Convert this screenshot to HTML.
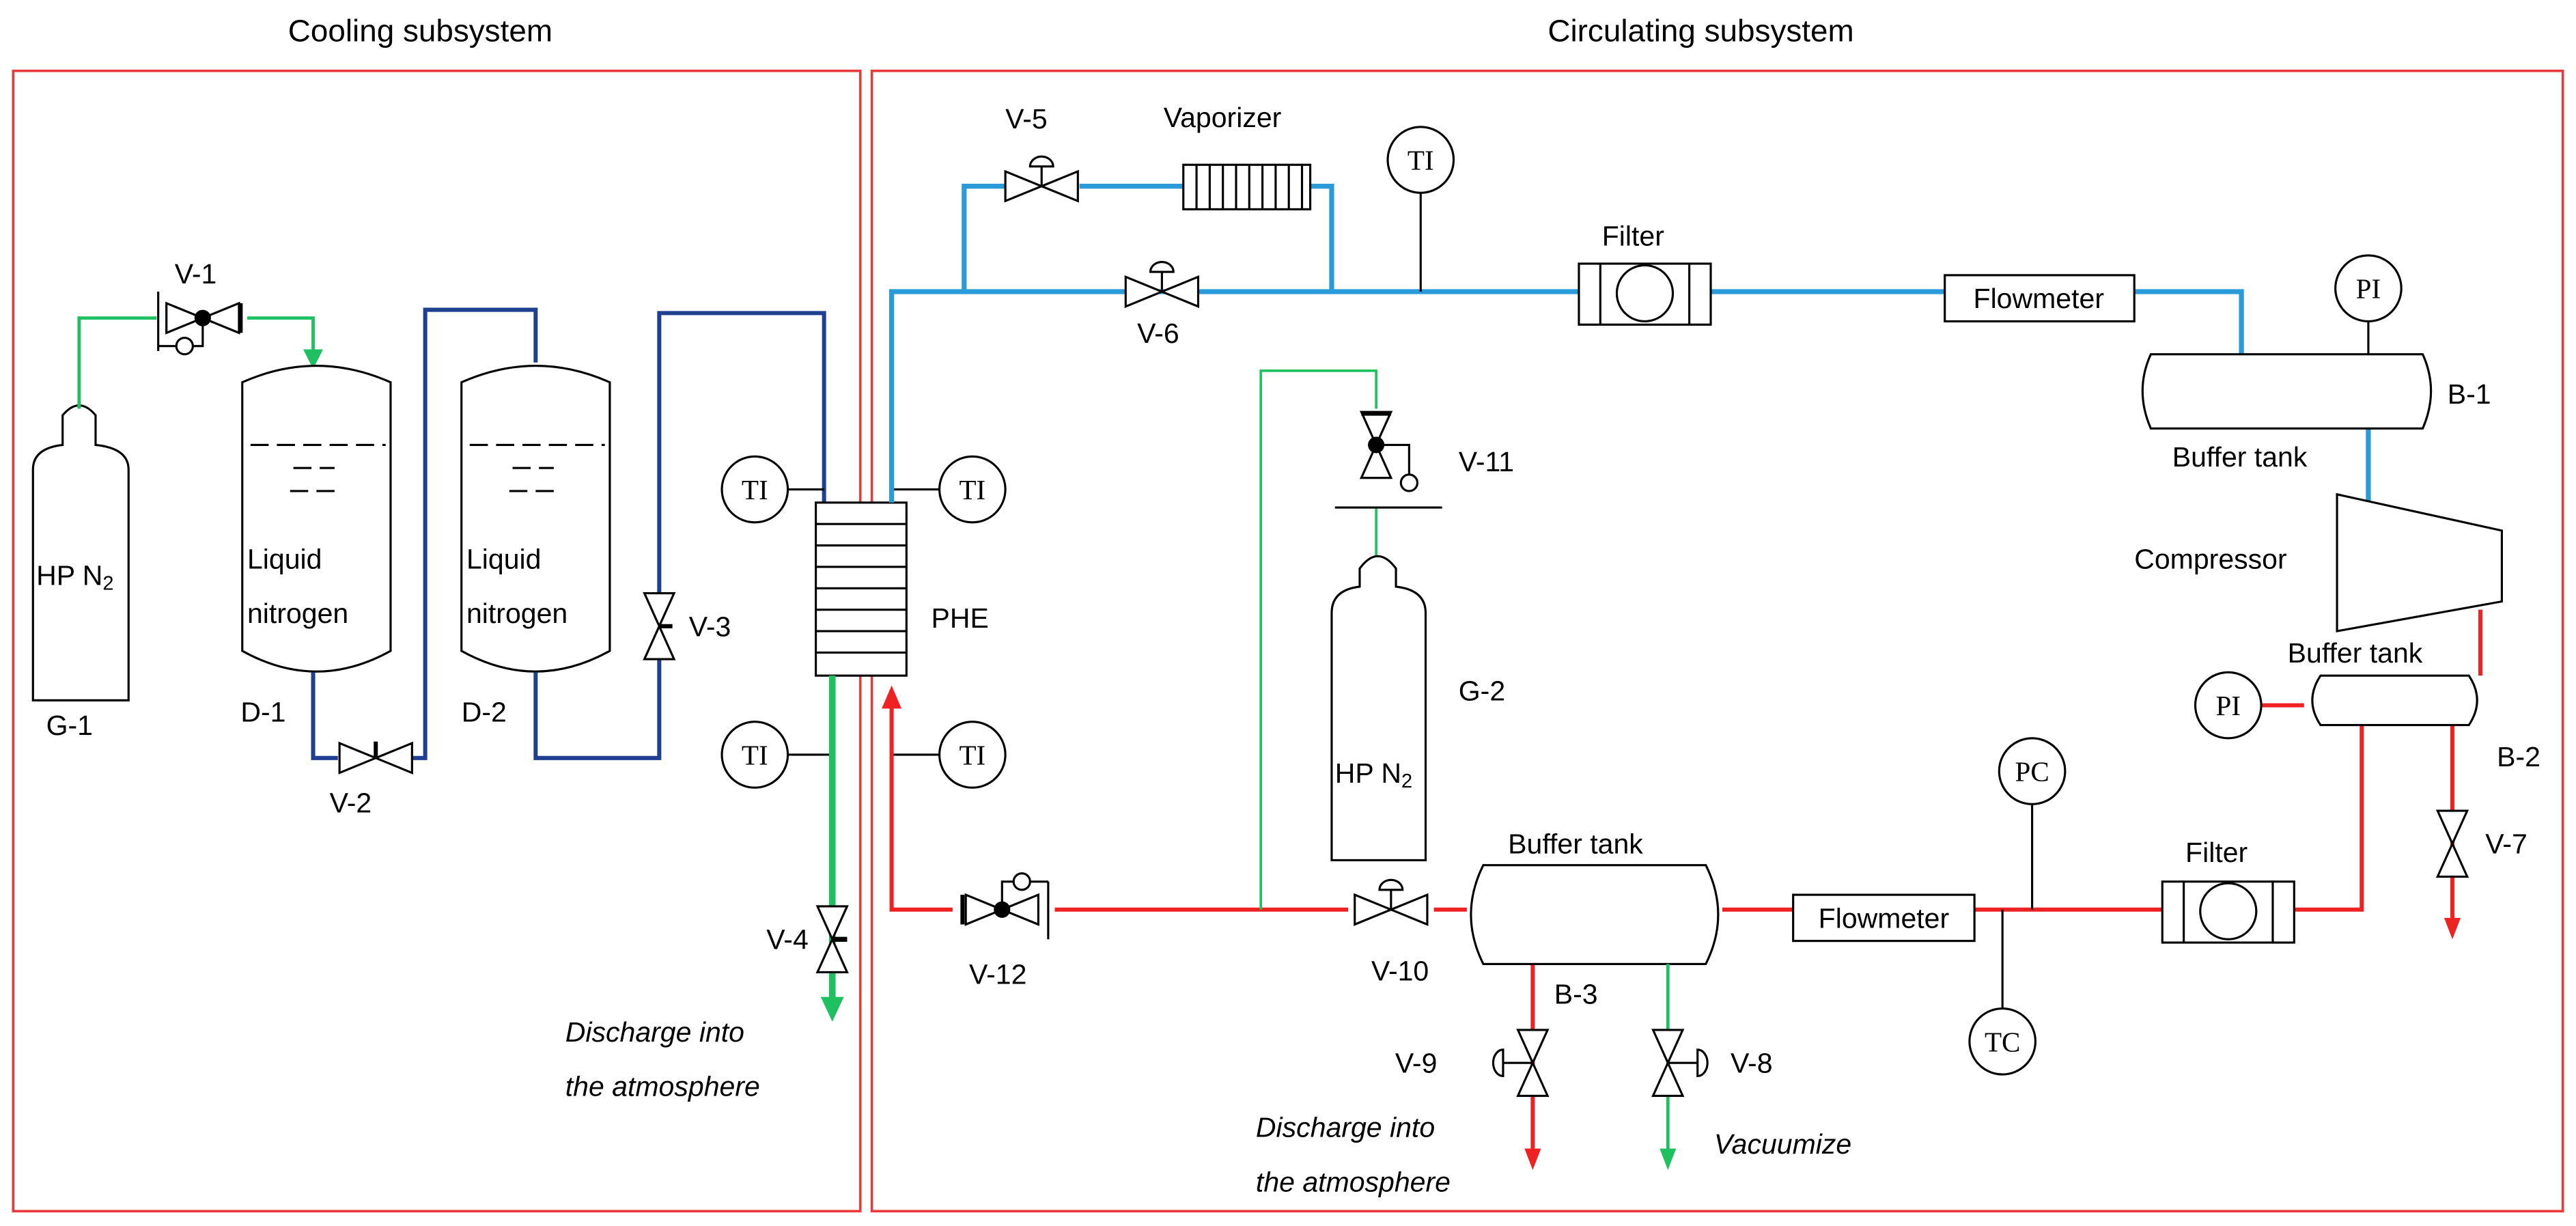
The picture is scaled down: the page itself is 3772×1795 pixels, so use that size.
<!DOCTYPE html>
<html><head><meta charset="utf-8"><style>
html,body{margin:0;padding:0;background:#fff}
svg{display:block}
text{font-family:"Liberation Sans",sans-serif;fill:#000}
</style></head><body>
<svg width="3772" height="1795" viewBox="0 0 1563 744" preserveAspectRatio="none" xmlns="http://www.w3.org/2000/svg">
<defs>
<g id="vh"><polygon points="-22,-9 0,0 -22,9" fill="#fff" stroke="#000" stroke-width="1.3"/><polygon points="22,-9 0,0 22,9" fill="#fff" stroke="#000" stroke-width="1.3"/></g>
<g id="vv"><polygon points="-9,-20 0,0 9,-20" fill="#fff" stroke="#000" stroke-width="1.3"/><polygon points="-9,20 0,0 9,20" fill="#fff" stroke="#000" stroke-width="1.3"/></g>
<g id="dome"><line x1="0" y1="0" x2="0" y2="-12" stroke="#000" stroke-width="1.3"/><path d="M-7,-12 A7,6 0 0 1 7,-12 Z" fill="#fff" stroke="#000" stroke-width="1.3"/></g>
</defs>
<rect width="1563" height="744" fill="#fff"/>
<text x="255" y="25" font-size="19" text-anchor="middle">Cooling subsystem</text>
<text x="1032" y="25" font-size="19" text-anchor="middle">Circulating subsystem</text>
<rect x="8" y="43" width="514" height="692" fill="none" stroke="#e83a3a" stroke-width="1.5"/>
<rect x="529" y="43" width="1026" height="692" fill="none" stroke="#e83a3a" stroke-width="1.5"/>

<!-- G-1 -->
<path d="M20,425 V285 Q20,272 38,270 V252 Q48,240 58,252 V270 Q78,272 78,285 V425 Z" fill="#fff" stroke="#000" stroke-width="1.3"/>
<text x="22" y="355" font-size="17">HP N<tspan font-size="12" dy="3">2</tspan></text>
<text x="28" y="446" font-size="17">G-1</text>
<polyline points="48,248 48,193 95,193" fill="none" stroke="#1ec060" stroke-width="2"/>
<polyline points="150,193 190,193 190,215" fill="none" stroke="#1ec060" stroke-width="2"/>
<polygon points="184,212 196,212 190,224" fill="#1ec060"/>
<line x1="96" y1="177" x2="96" y2="213" stroke="#000" stroke-width="1.3"/>
<line x1="101" y1="184" x2="101" y2="202" stroke="#000" stroke-width="1.3"/>
<g transform="translate(123,193)"><use href="#vh"/></g>
<line x1="146" y1="184" x2="146" y2="202" stroke="#000" stroke-width="2.5"/>
<circle cx="123" cy="193" r="5" fill="#000"/>
<polyline points="123,193 123,210 96,210" fill="none" stroke="#000" stroke-width="1.3"/>
<circle cx="112" cy="210" r="5" fill="#fff" stroke="#000" stroke-width="1.3"/>
<text x="106" y="172" font-size="17">V-1</text>

<!-- D-1 -->
<path d="M147,232 Q192,212 237,232 V395 Q192,420 147,395 Z" fill="#fff" stroke="#000" stroke-width="1.3"/>
<path d="M152,270 H234 M178,284 H203 M176,298 H205" stroke="#000" stroke-width="1.3" stroke-dasharray="11,5"/>
<text x="150" y="345" font-size="17">Liquid</text><text x="150" y="378" font-size="17">nitrogen</text>
<text x="146" y="438" font-size="17">D-1</text>
<!-- D-2 -->
<path d="M280,232 Q325,212 370,232 V395 Q325,420 280,395 Z" fill="#fff" stroke="#000" stroke-width="1.3"/>
<path d="M285,270 H367 M311,284 H336 M309,298 H338" stroke="#000" stroke-width="1.3" stroke-dasharray="11,5"/>
<text x="283" y="345" font-size="17">Liquid</text><text x="283" y="378" font-size="17">nitrogen</text>
<text x="280" y="438" font-size="17">D-2</text>

<g fill="none" stroke="#1f3f8f" stroke-width="2.5">
<polyline points="190,408 190,460 205,460"/>
<polyline points="250,460 258,460 258,188 325,188 325,220"/>
<polyline points="325,408 325,460 400,460 400,400"/>
<polyline points="400,360 400,190 500,190 500,305"/>
</g>
<g transform="translate(228,460)"><use href="#vh"/></g>
<line x1="228" y1="460" x2="228" y2="450" stroke="#000" stroke-width="2.5"/>
<text x="200" y="493" font-size="17">V-2</text>
<g transform="translate(400,380)"><use href="#vv"/></g>
<line x1="400" y1="380" x2="408" y2="380" stroke="#000" stroke-width="2.5"/>
<text x="418" y="386" font-size="17">V-3</text>

<!-- PHE -->
<rect x="495" y="305" width="55" height="105" fill="#fff" stroke="#000" stroke-width="1.3"/>
<path d="M495,318 H550 M495,331 H550 M495,344 H550 M495,357 H550 M495,370 H550 M495,383 H550 M495,396 H550" stroke="#000" stroke-width="1.3"/>
<text x="565" y="381" font-size="17">PHE</text>
<g stroke="#000" stroke-width="1.3" fill="#fff">
<line x1="478" y1="297" x2="500" y2="297"/><circle cx="458" cy="297" r="20"/>
<line x1="541" y1="297" x2="570" y2="297"/><circle cx="590" cy="297" r="20"/>
<line x1="478" y1="458" x2="505" y2="458"/><circle cx="458" cy="458" r="20"/>
<line x1="541" y1="458" x2="570" y2="458"/><circle cx="590" cy="458" r="20"/>
</g>
<g font-family="Liberation Serif" font-size="17" text-anchor="middle">
<text x="458" y="303" style="font-family:'Liberation Serif'">TI</text><text x="590" y="303" style="font-family:'Liberation Serif'">TI</text>
<text x="458" y="464" style="font-family:'Liberation Serif'">TI</text><text x="590" y="464" style="font-family:'Liberation Serif'">TI</text>
</g>
<line x1="505" y1="410" x2="505" y2="608" stroke="#1ec060" stroke-width="4"/>
<polygon points="498,605 512,605 505,620" fill="#1ec060"/>
<g transform="translate(505,570)"><use href="#vv"/></g>
<line x1="505" y1="570" x2="514" y2="570" stroke="#000" stroke-width="3"/>
<text x="465" y="576" font-size="17">V-4</text>
<text x="343" y="632" font-size="17" font-style="italic">Discharge into</text>
<text x="343" y="665" font-size="17" font-style="italic">the atmosphere</text>

<!-- blue circuit -->
<g fill="none" stroke="#2a9ad8" stroke-width="3">
<polyline points="541,305 541,177 958,177"/>
<polyline points="585,177 585,113 610,113"/>
<polyline points="655,113 718,113"/>
<polyline points="795,113 808,113 808,177"/>
<polyline points="1038,177 1180,177"/>
<polyline points="1295,177 1360,177 1360,215"/>
<polyline points="1437,260 1437,305"/>
</g>
<g transform="translate(632,113)"><use href="#vh"/><use href="#dome"/></g>
<text x="610" y="78" font-size="17">V-5</text>
<g transform="translate(705,177)"><use href="#vh"/><use href="#dome"/></g>
<text x="690" y="208" font-size="17">V-6</text>
<rect x="718" y="100" width="77" height="27" fill="#fff" stroke="#000" stroke-width="1.3"/>
<path d="M726,100V127M734,100V127M742,100V127M750,100V127M758,100V127M766,100V127M774,100V127M782,100V127M790,100V127" stroke="#000" stroke-width="1.3"/>
<text x="706" y="77" font-size="17">Vaporizer</text>
<line x1="862" y1="117" x2="862" y2="177" stroke="#000" stroke-width="1.3"/>
<circle cx="862" cy="97" r="20" fill="#fff" stroke="#000" stroke-width="1.3"/>
<text x="862" y="103" font-size="17" text-anchor="middle" style="font-family:'Liberation Serif'">TI</text>
<rect x="958" y="160" width="80" height="37" fill="#fff" stroke="#000" stroke-width="1.3"/>
<path d="M971,160V197M1025,160V197" stroke="#000" stroke-width="1.3"/>
<circle cx="998" cy="178" r="17" fill="#fff" stroke="#000" stroke-width="1.3"/>
<text x="972" y="149" font-size="17">Filter</text>
<rect x="1180" y="167" width="115" height="28" fill="#fff" stroke="#000" stroke-width="1.3"/>
<text x="1237" y="187" font-size="17" text-anchor="middle">Flowmeter</text>
<line x1="1437" y1="195" x2="1437" y2="215" stroke="#000" stroke-width="1.3"/>
<circle cx="1437" cy="175" r="20" fill="#fff" stroke="#000" stroke-width="1.3"/>
<text x="1437" y="181" font-size="17" text-anchor="middle" style="font-family:'Liberation Serif'">PI</text>
<path d="M1305,215 H1470 Q1480,237 1470,260 H1305 Q1295,237 1305,215 Z" fill="#fff" stroke="#000" stroke-width="1.3"/>
<text x="1318" y="283" font-size="17">Buffer tank</text>
<text x="1485" y="245" font-size="17">B-1</text>
<polygon points="1418,300 1518,322 1518,365 1418,383" fill="#fff" stroke="#000" stroke-width="1.3"/>
<text x="1295" y="345" font-size="17">Compressor</text>

<!-- red circuit -->
<g fill="none" stroke="#ee2222" stroke-width="2.5">
<polyline points="1505,370 1505,410"/>
<polyline points="1372,428 1398,428"/>
<polyline points="1488,440 1488,560"/>
<polyline points="1433,440 1433,552 1392,552"/>
<polyline points="1312,552 1198,552"/>
<polyline points="1088,552 1045,552"/>
<polyline points="890,552 870,552"/>
<polyline points="818,552 640,552"/>
<polyline points="578,552 541,552 541,428"/>
<polyline points="930,585 930,700"/>
</g>
<polygon points="535,430 547,430 541,416" fill="#ee2222"/>
<polygon points="1483,557 1493,557 1488,570" fill="#ee2222"/>
<polygon points="925,697 935,697 930,710" fill="#ee2222"/>
<path d="M1408,410 H1498 Q1508,425 1498,440 H1408 Q1398,425 1408,410 Z" fill="#fff" stroke="#000" stroke-width="1.3"/>
<text x="1388" y="402" font-size="17">Buffer tank</text>
<text x="1515" y="465" font-size="17">B-2</text>
<circle cx="1352" cy="428" r="20" fill="#fff" stroke="#000" stroke-width="1.3"/>
<text x="1352" y="434" font-size="17" text-anchor="middle" style="font-family:'Liberation Serif'">PI</text>
<g transform="translate(1488,512)"><use href="#vv"/></g>
<text x="1508" y="518" font-size="17">V-7</text>
<rect x="1312" y="535" width="80" height="37" fill="#fff" stroke="#000" stroke-width="1.3"/>
<path d="M1325,535V572M1379,535V572" stroke="#000" stroke-width="1.3"/>
<circle cx="1352" cy="553" r="17" fill="#fff" stroke="#000" stroke-width="1.3"/>
<text x="1326" y="523" font-size="17">Filter</text>
<rect x="1088" y="543" width="110" height="28" fill="#fff" stroke="#000" stroke-width="1.3"/>
<text x="1143" y="563" font-size="17" text-anchor="middle">Flowmeter</text>
<line x1="1233" y1="488" x2="1233" y2="552" stroke="#000" stroke-width="1.3"/>
<line x1="1215" y1="552" x2="1215" y2="612" stroke="#000" stroke-width="1.3"/>
<circle cx="1233" cy="468" r="20" fill="#fff" stroke="#000" stroke-width="1.3"/>
<text x="1233" y="474" font-size="17" text-anchor="middle" style="font-family:'Liberation Serif'">PC</text>
<circle cx="1215" cy="632" r="20" fill="#fff" stroke="#000" stroke-width="1.3"/>
<text x="1215" y="638" font-size="17" text-anchor="middle" style="font-family:'Liberation Serif'">TC</text>
<path d="M900,525 H1035 Q1050,555 1035,585 H900 Q885,555 900,525 Z" fill="#fff" stroke="#000" stroke-width="1.3"/>
<text x="915" y="518" font-size="17">Buffer tank</text>
<text x="943" y="609" font-size="17">B-3</text>
<g transform="translate(844,552)"><use href="#vh"/><use href="#dome"/></g>
<text x="832" y="595" font-size="17">V-10</text>
<g transform="translate(608,552)"><use href="#vh"/></g>
<circle cx="608" cy="552" r="5" fill="#000"/>
<line x1="636" y1="535" x2="636" y2="570" stroke="#000" stroke-width="1.3"/>
<line x1="584" y1="543" x2="584" y2="561" stroke="#000" stroke-width="2.5"/>
<polyline points="608,552 608,535 636,535" fill="none" stroke="#000" stroke-width="1.3"/>
<circle cx="620" cy="535" r="5" fill="#fff" stroke="#000" stroke-width="1.3"/>
<text x="588" y="597" font-size="17">V-12</text>

<!-- green G-2 -->
<polyline points="765,552 765,225 835,225 835,248" fill="none" stroke="#1ec060" stroke-width="1.5"/>
<line x1="835" y1="308" x2="835" y2="338" stroke="#1ec060" stroke-width="1.5"/>
<g transform="translate(835,270)"><use href="#vv"/></g>
<circle cx="835" cy="270" r="5" fill="#000"/>
<polyline points="835,270 855,270 855,290" fill="none" stroke="#000" stroke-width="1.3"/>
<circle cx="855" cy="293" r="5" fill="#fff" stroke="#000" stroke-width="1.3"/>
<line x1="810" y1="308" x2="875" y2="308" stroke="#000" stroke-width="1.3"/>
<line x1="826" y1="251" x2="844" y2="251" stroke="#000" stroke-width="2.5"/>
<text x="885" y="286" font-size="17">V-11</text>
<path d="M808,522 V372 Q808,358 825,356 V345 Q836,330 847,345 V356 Q865,358 865,372 V522 Z" fill="#fff" stroke="#000" stroke-width="1.3"/>
<text x="810" y="475" font-size="17">HP N<tspan font-size="12" dy="3">2</tspan></text>
<text x="885" y="425" font-size="17">G-2</text>

<!-- drains -->
<line x1="1012" y1="585" x2="1012" y2="698" stroke="#1ec060" stroke-width="2"/>
<polygon points="1007,697 1017,697 1012,710" fill="#1ec060"/>
<g transform="translate(930,645)"><use href="#vv"/></g>
<line x1="930" y1="645" x2="912" y2="645" stroke="#000" stroke-width="1.3"/>
<path d="M912,637 A6,8 0 0 0 912,653 Z" fill="#fff" stroke="#000" stroke-width="1.3"/>
<text x="872" y="651" font-size="17" text-anchor="end">V-9</text>
<g transform="translate(1012,645)"><use href="#vv"/></g>
<line x1="1012" y1="645" x2="1030" y2="645" stroke="#000" stroke-width="1.3"/>
<path d="M1030,637 A6,8 0 0 1 1030,653 Z" fill="#fff" stroke="#000" stroke-width="1.3"/>
<text x="1050" y="651" font-size="17">V-8</text>
<text x="762" y="690" font-size="17" font-style="italic">Discharge into</text>
<text x="762" y="723" font-size="17" font-style="italic">the atmosphere</text>
<text x="1040" y="700" font-size="17" font-style="italic">Vacuumize</text>
</svg>
</body></html>
